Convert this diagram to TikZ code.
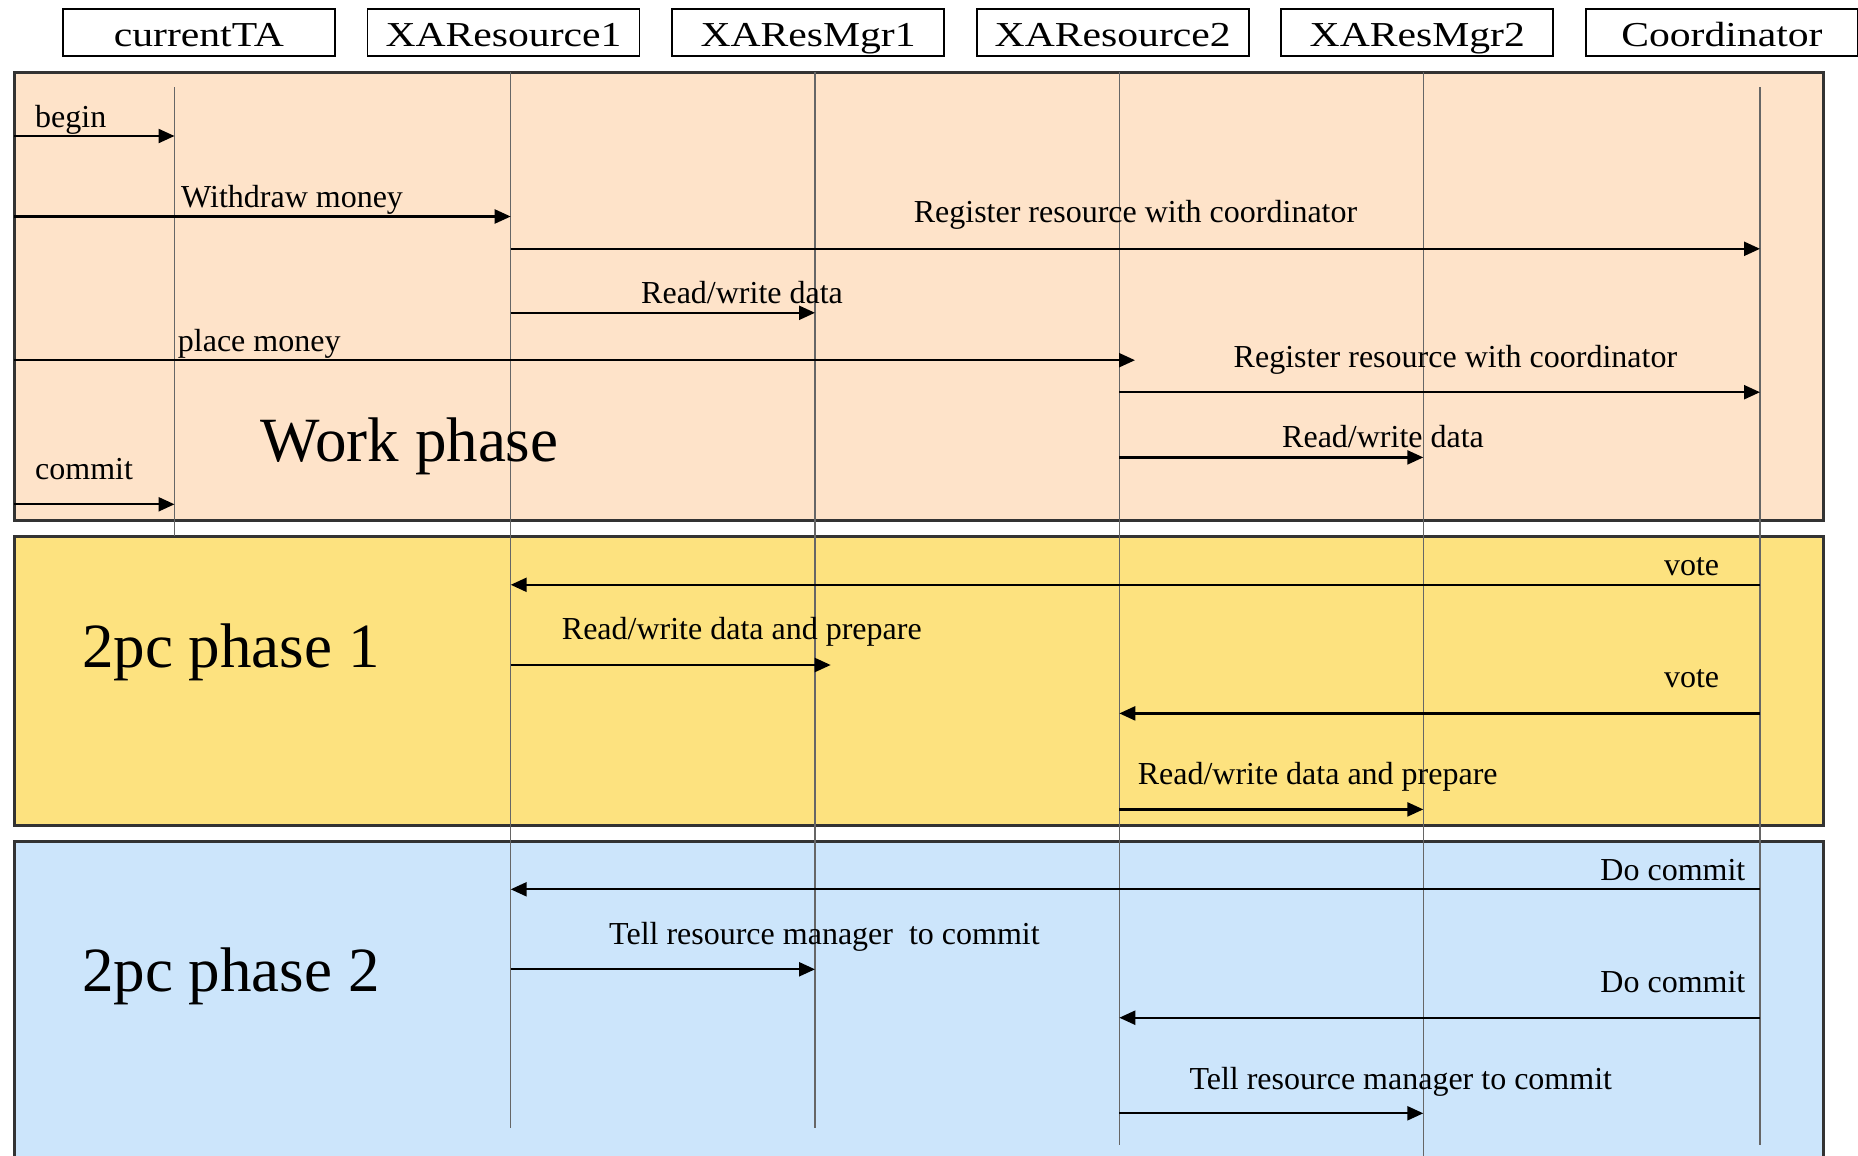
\documentclass[tikz,border=0pt]{standalone}
\usepackage{fontspec}
\setmainfont{Liberation Serif}
\newfontfamily\headfont{Liberation Serif}[FakeStretch=1.19]
\usetikzlibrary{arrows.meta}
\definecolor{workbg}{RGB}{254,227,201}
\definecolor{oneBg}{RGB}{253,226,127}
\definecolor{twoBg}{RGB}{204,229,251}
\begin{document}
\begin{tikzpicture}[x=1pt,y=-1pt,
  panel/.style={draw=black!80, line width=2.5pt},
  header/.style={draw=black, line width=1.8pt, minimum width=272pt, minimum height=47pt, inner sep=0pt, text height=37.5pt, text depth=9.5pt, font=\headfont\fontsize{35}{40}\selectfont},
  lifeline/.style={draw=black!60, line width=1.3pt},
  msg/.style={line width=2.3pt, -{Triangle[length=16pt,width=14pt]}},
  lbl/.style={font=\fontsize{32}{36}\selectfont, inner sep=0pt},
  big/.style={font=\fontsize{63}{70}\selectfont, inner sep=0pt}]
\useasboundingbox (0,0) rectangle (1858,1156);
\clip (0,0) rectangle (1858,1156);

% headers
\node[header] (hTA) at (198.9,32.8) {currentTA};
\node[header] (hR1) at (503.5,32.8) {XAResource1};
\node[header] (hM1) at (808.1,32.8) {XAResMgr1};
\node[header] (hR2) at (1112.7,32.8) {XAResource2};
\node[header] (hM2) at (1417.3,32.8) {XAResMgr2};
\node[header] (hCo) at (1721.9,32.8) {Coordinator};

% panels
\draw[panel, fill=workbg] (14.3,72.3) rectangle (1823.7,520.7);
\draw[panel, fill=oneBg] (14.3,536.5) rectangle (1823.7,825.5);
\draw[panel, fill=twoBg] (14.3,841.5) rectangle (1823.7,1175);

% lifelines
\coordinate (pl) at (14.3,72.3);
\coordinate (l1t) at (174.5,87);   \coordinate (l1b) at (174.5,536);
\coordinate (l2t) at (510.7,72.3); \coordinate (l2b) at (510.7,1128);
\coordinate (l3t) at (815,72.3);   \coordinate (l3b) at (815,1128);
\coordinate (l4t) at (1119.3,72.3);\coordinate (l4b) at (1119.3,1145);
\coordinate (l5t) at (1423.3,72.3);\coordinate (l5b) at (1423.3,1160);
\coordinate (l6t) at (1760,87);    \coordinate (l6b) at (1760,1145);
\foreach \i in {1,...,6} {\draw[lifeline] (l\i t) -- (l\i b);}

% phase titles
\node[big, anchor=base west] (twork) at (260.7,461.7) {Work phase};
\node[big, anchor=base west] (tone) at (82,667.5) {2pc phase 1};
\node[big, anchor=base west] (ttwo) at (82,991) {2pc phase 2};

% work phase messages
\draw[msg] (pl |- 0,136) -- (l1t |- 0,136);
\node[lbl, anchor=base west] (m1) at (35,127) {begin};
\draw[msg] (pl |- 0,216.5) -- (l2t |- 0,216.5);
\node[lbl, anchor=base west] (m2) at (181,207) {Withdraw money};
\draw[msg] (l2t |- 0,248.8) -- (l6t |- 0,248.8);
\node[lbl, anchor=base west] (m3) at (913.6,222) {Register resource with coordinator};
\draw[msg] (l2t |- 0,312.8) -- (l3t |- 0,312.8);
\node[lbl, anchor=base west] (m4) at (641,303) {Read/write data};
\coordinate (pmEnd) at (1135,360.2);
\draw[msg] (pl |- pmEnd) -- (pmEnd);
\node[lbl, anchor=base west] (m5) at (177.7,351.5) {place money};
\draw[msg] (l4t |- 0,392.2) -- (l6t |- 0,392.2);
\node[lbl, anchor=base west] (m6) at (1233.5,367) {Register resource with coordinator};
\draw[msg] (l4t |- 0,457.4) -- (l5t |- 0,457.4);
\node[lbl, anchor=base west] (m7) at (1282,447.5) {Read/write data};
\draw[msg] (pl |- 0,504.3) -- (l1t |- 0,504.3);
\node[lbl, anchor=base west] (m8) at (35,479.3) {commit};

% phase 1 messages
\draw[msg] (l6t |- 0,584.8) -- (l2t |- 0,584.8);
\node[lbl, anchor=base east] (m9) at (1719.3,575) {vote};
\coordinate (rpEnd) at (830.7,665);
\draw[msg] (l2t |- rpEnd) -- (rpEnd);
\node[lbl, anchor=base west] (m10) at (561.7,639.3) {Read/write data and prepare};
\draw[msg] (l6t |- 0,713.4) -- (l4t |- 0,713.4);
\node[lbl, anchor=base east] (m11) at (1719.3,687) {vote};
\draw[msg] (l4t |- 0,809.4) -- (l5t |- 0,809.4);
\node[lbl, anchor=base west] (m12) at (1137.6,784) {Read/write data and prepare};

% phase 2 messages
\draw[msg] (l6t |- 0,889.3) -- (l2t |- 0,889.3);
\node[lbl, anchor=base east] (m13) at (1745.5,880.7) {Do commit};
\draw[msg] (l2t |- 0,969.3) -- (l3t |- 0,969.3);
\node[lbl, anchor=base west] (m14) at (609,944) {Tell resource manager~ to commit};
\draw[msg] (l6t |- 0,1017.7) -- (l4t |- 0,1017.7);
\node[lbl, anchor=base east] (m15) at (1745.5,992.3) {Do commit};
\draw[msg] (l4t |- 0,1113.3) -- (l5t |- 0,1113.3);
\node[lbl, anchor=base west] (m16) at (1189.3,1089.3) {Tell resource manager to commit};
\end{tikzpicture}
\end{document}
